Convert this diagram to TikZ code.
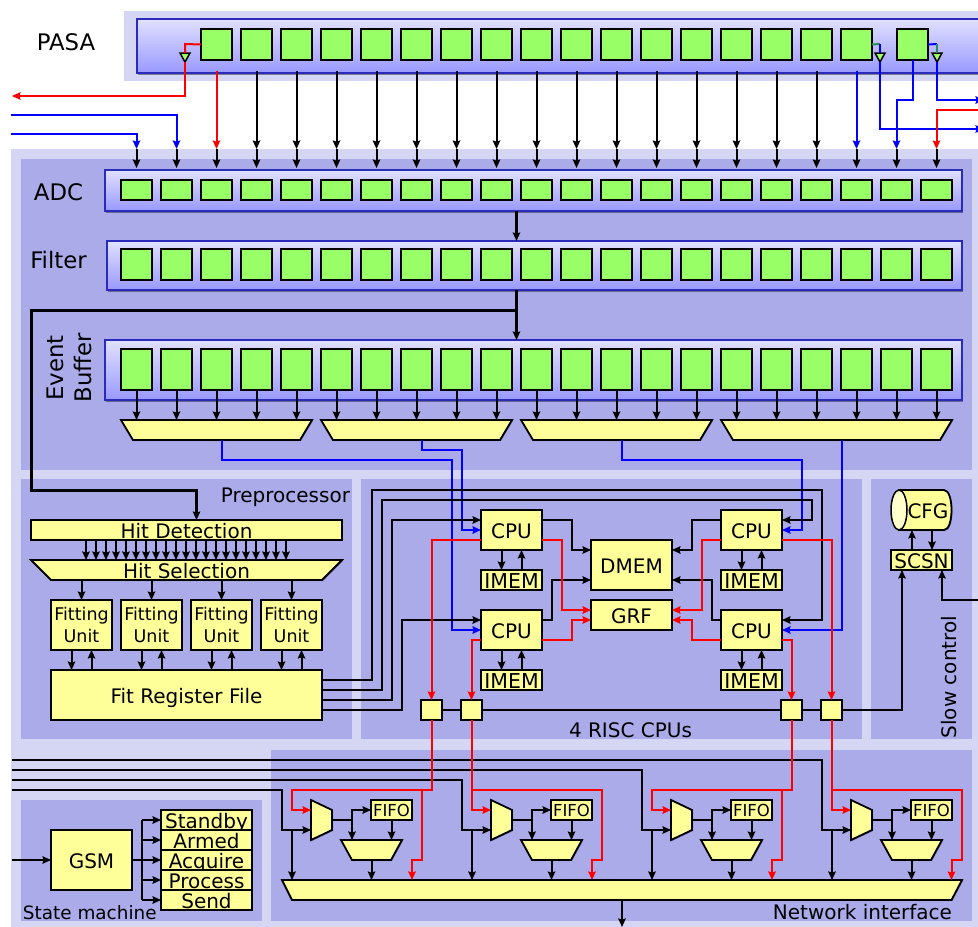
\documentclass[tikz,border=0pt]{standalone}
\usepackage{fontspec}
\setmainfont{DejaVu Sans}
\usetikzlibrary{arrows.meta,shadows,calc}
\definecolor{panelL}{HTML}{D5D6F4}
\definecolor{panelD}{HTML}{ABABEA}
\definecolor{yel}{HTML}{FFFF99}
\definecolor{grn}{HTML}{99FF66}
\definecolor{barline}{HTML}{2A2ABB}
\definecolor{teal2}{HTML}{2E8B57}
\tikzset{
  >={Stealth[length=8.5pt,width=7.5pt,inset=1.2pt]},
  x=1pt,y=-1pt,
  every node/.style={inner sep=0pt,outer sep=0pt},
  fsz/.style={font=\fontsize{20}{22}\selectfont},
  big/.style={font=\fontsize{22.8}{25}\selectfont},
  shad/.style={drop shadow={shadow xshift=1pt,shadow yshift=-1pt,opacity=.3,fill=black}},
  panelA/.style={fill=panelL,draw=none},
  panelB/.style={fill=panelD,draw=none},
  bar/.style={draw=barline,line width=2pt,top color=blue!12!white,bottom color=blue!40!white,drop shadow={shadow xshift=1pt,shadow yshift=-1.5pt,opacity=.4,fill=black}},
  cell/.style={draw=black,line width=1.8pt,fill=grn,shad},
  ybox/.style={draw=black,line width=1.8pt,fill=yel,shad,fsz,text height=16pt,text depth=0pt},
  yshape/.style={draw=black,line width=1.8pt,fill=yel,shad},
  ghost/.style={fsz,text height=16pt,text depth=0pt},
  wire/.style={line width=2pt,black},
  thick2/.style={line width=3pt,black},
  busw/.style={line width=2.6pt,black},
  redw/.style={line width=2pt,red},
  bluw/.style={line width=2pt,blue},
}
\begin{document}
\begin{tikzpicture}
\useasboundingbox (0,0) rectangle (978,927);
\fill[white] (0,0) rectangle (978,927);
% panels
\path[panelA] (124,11) rectangle (978,81);
\path[panelA] (11,149) rectangle (978,927);
\path[panelB] (21,159) rectangle (972,470);
\path[panelB] (21,479) rectangle (352,739);
\path[panelB] (361,479) rectangle (862,739);
\path[panelB] (871,479) rectangle (972,739);
\path[panelB] (21,800) rectangle (262,921);
\path[panelB] (271,750) rectangle (972,921);
% labels
\node[big,anchor=base] (lPasa) at (66,50) {PASA};
\node[big,anchor=base] (lAdc) at (58.5,200) {ADC};
\node[big,anchor=base] (lFilter) at (58.5,268) {Filter};
\node[big,anchor=base,rotate=90] (lEvent) at (63.5,368) {Event};
\node[big,anchor=base,rotate=90] (lBuffer) at (91.5,368) {Buffer};
\node[fsz,anchor=base east] (lPre) at (350,502) {Preprocessor};
\node[fsz,anchor=base] (lRisc) at (630.5,737) {4 RISC CPUs};
\node[fsz,anchor=base,rotate=90] (lSlow) at (956.5,677) {Slow control};
\node[fsz,anchor=base east] (lNet) at (952,919) {Network interface};
\node[anchor=base west,font=\fontsize{18.4}{20}\selectfont] (lState) at (23,919) {State machine};
% bars
\path[bar] (137,19) rectangle (990,73);
\path[bar] (104.5,170) rectangle (962,211);
\path[bar] (107,241) rectangle (962,290);
\path[bar] (104.5,340) rectangle (962,400);
\node (pasa) at (563.5,46) [minimum width=853pt,minimum height=54pt] {};
\node (adc) at (533.25,190.5) [minimum width=857.5pt,minimum height=41pt] {};
\node (filt) at (534.5,265.5) [minimum width=855pt,minimum height=49pt] {};
\node (evb) at (533.25,370) [minimum width=857.5pt,minimum height=60pt] {};
% cells
\foreach \i in {1,...,17}{
  \pgfmathsetmacro\cx{216.5+40*(\i-1)}
  \node[cell,minimum width=31pt,minimum height=31pt] (pc\i) at (\cx,44.5) {};
}
\node[cell,minimum width=31pt,minimum height=31pt] (pc18) at (912.5,44.5) {};
\foreach \i in {1,...,21}{
  \pgfmathsetmacro\cx{136.5+40*(\i-1)}
  \node[cell,minimum width=31pt,minimum height=20.5pt] (ac\i) at (\cx,190) {};
  \node[cell,minimum width=31pt,minimum height=31pt] (fc\i) at (\cx,264.5) {};
  \node[cell,minimum width=31pt,minimum height=41pt] (ec\i) at (\cx,369.5) {};
}
% PASA buffers
\foreach \n/\cx in {tri1/185,tri2/880,tri3/937}{
  \path[draw=black,line width=1.5pt,fill=grn] (\cx-5,53) -- (\cx+5,53) -- (\cx,62) -- cycle;
  \node[minimum width=10pt,minimum height=9pt] (\n) at (\cx,57.5) {};
}
% Event muxes
\foreach \n/\a/\b in {em1/121/312,em2/321/512,em3/521/712,em4/721/952}{
  \path[yshape] (\a,420) -- (\b,420) -- (\b-12,440) -- (\a+12,440) -- cycle;
  \pgfmathsetmacro\cx{(\a+\b)/2}\pgfmathsetmacro\w{\b-\a}
  \node[minimum width=\w pt,minimum height=20pt] (\n) at (\cx,430) {};
}
% Preprocessor
\node[ybox,minimum width=311pt,minimum height=20pt] (hd) at (186.5,530) {Hit Detection};
\path[yshape] (31,560) -- (342,560) -- (322,580) -- (51,580) -- cycle;
\node[ghost,minimum width=311pt,minimum height=20pt] (hs) at (186.5,570) {Hit Selection};
\foreach \i/\cx in {1/81.5,2/151.5,3/221.5,4/291.5}{
  \node[ybox,minimum width=61pt,minimum height=50pt,align=center,font=\fontsize{17.5}{21.5}\selectfont,text height=,text depth=] (fu\i) at (\cx,625) {Fitting\\Unit};
}
\node[ybox,minimum width=271pt,minimum height=50pt] (frf) at (186.5,695) {Fit Register File};
% CPUs
\foreach \n/\cx/\cy in {cpuA/511.5/530,cpuB/511.5/630,cpuC/751.5/530,cpuD/751.5/630}{
  \node[ybox,minimum width=61pt,minimum height=40pt] (\n) at (\cx,\cy) {CPU};
}
\foreach \n/\cx/\cy in {imA/511.5/580,imB/511.5/680,imC/751.5/580,imD/751.5/680}{
  \node[ybox,minimum width=61pt,minimum height=20pt,font=\fontsize{20.5}{22}\selectfont] (\n) at (\cx,\cy) {IMEM};
}
\node[ybox,minimum width=81pt,minimum height=50pt] (dmem) at (631.5,565) {DMEM};
\node[ybox,minimum width=81pt,minimum height=30pt] (grf) at (631.5,615) {GRF};
\foreach \n/\cx in {sqA/431.5,sqB/471.5,sqC/791.5,sqD/831.5}{
  \node[ybox,minimum width=21pt,minimum height=20pt] (\n) at (\cx,710) {};
}
% Slow control
\path[yshape] (899,490) -- (944,490) .. controls (954,490) and (954,530) .. (944,530) -- (899,530) -- cycle;
\path[draw=black,line width=1.5pt,fill=yel!50!white] (899,510) ellipse [x radius=8,y radius=20];
\node[ghost,minimum width=61pt,minimum height=40pt] (cfgbox) at (921.5,510) {};
\node[ghost] (cfg) at (928,510) {CFG};
\node[ybox,minimum width=61pt,minimum height=20pt] (scsn) at (921.5,560) {SCSN};
% State machine
\node[ybox,minimum width=81pt,minimum height=60pt] (gsm) at (91.5,860) {GSM};
\foreach \n/\cy/\t in {stA/820/Standby,stB/840/Armed,stC/860/Acquire,stD/880/Process,stE/900/Send}{
  \node[ybox,minimum width=91pt,minimum height=20pt] (\n) at (206.5,\cy) {\t};
}
% Network interface
\foreach \n/\d in {1/0,2/180,3/360,4/540}{
  \path[yshape] (311+\d,800) -- (332+\d,810) -- (332+\d,830) -- (311+\d,840) -- cycle;
  \node[minimum width=21pt,minimum height=40pt] (nm\n) at (321.5+\d,820) {};
  \node[ybox,minimum width=41pt,minimum height=20pt,font=\fontsize{16.5}{18}\selectfont,text height=13.4pt] (ff\n) at (391.5+\d,810) {FIFO};
  \path[yshape] (341+\d,840) -- (402+\d,840) -- (391+\d,860) -- (352+\d,860) -- cycle;
  \node[minimum width=61pt,minimum height=20pt] (sm\n) at (371.5+\d,850) {};
}
\path[yshape] (282,880) -- (962,880) -- (951.5,900) -- (292,900) -- cycle;
\node[minimum width=680pt,minimum height=20pt] (nb) at (622,890) {};
% free ends
\coordinate (outL) at (12,96);
\coordinate (inA) at (11,115);
\coordinate (inB) at (11,134);
\coordinate (outR1) at (984,100);
\coordinate (inR) at (978,110);
\coordinate (outR2) at (984,129);
\coordinate (sciR) at (978,600);
\coordinate (l1) at (12,760);
\coordinate (l2) at (12,770);
\coordinate (l3) at (12,780);
\coordinate (l4) at (12,790);
\coordinate (gsmin) at (12,860);
\coordinate (bottom) at (622,927);
% PASA to ADC
\foreach \k in {1,...,21}{
  \draw[wire,->] (ac\k.north |- 0,149) -- (ac\k.north |- 0,168);
}
\draw[redw,->] (pc1.south |- 0,71) -- (ac3.north |- 0,149);
\foreach \k [evaluate=\k as \j using int(\k+2)] in {2,...,16}{
  \draw[wire,->] (pc\k.south |- 0,71) -- (ac\j.north |- 0,149);
}
\draw[bluw,->] (pc17.south |- 0,71) -- (ac19.north |- 0,149);
\draw[bluw,->] (pc18.south) -- (912.5,100) -- (896.5,100) -- (ac20.north |- 0,149);
\draw[redw] (pc1.west) -- (185,44) -- (tri1.north);
\draw[redw,->] (tri1.south) -- (185,96) -- (outL);
\draw[bluw,->] (inA) -- (176.5,115) -- (ac2.north |- 0,149);
\draw[bluw,->] (inB) -- (136.5,134) -- (ac1.north |- 0,149);
\draw[line width=2pt,teal2] (pc17.east) -- (880,44);
\draw[bluw] (880,44) -- (tri2.north);
\draw[bluw,->] (tri2.south) -- (880,129) -- (outR2);
\draw[bluw] (pc18.east) -- (937,44);
\draw[line width=2pt,teal2] (937,44) -- (tri3.north);
\draw[bluw,->] (tri3.south) -- (937,100) -- (outR1);
\draw[redw,->] (inR) -- (936.5,110) -- (ac21.north |- 0,149);
% ADC Filter Buffer
\draw[busw,->] (516.5,0 |- adc.south) -- (516.5,0 |- filt.north);
\draw[thick2,->] (516.5,0 |- filt.south) -- (516.5,0 |- evb.north);
\draw[thick2,->] (516.5,310) -- (31,310) -- (31,490) -- (196.5,490) -- (196.5,0 |- hd.north);
% buffer to muxes
\foreach \k in {1,...,21}{
  \draw[wire,->] (ec\k.south) -- (ec\k.south |- 0,420);
}
% muxes to CPUs
\draw[bluw,->] (221.5,0 |- em1.south) -- (221.5,460) -- (452,460) -- (452,630) -- (cpuB.west);
\draw[bluw,->] (421.5,0 |- em2.south) -- (421.5,450) -- (462,450) -- (462,530) -- (cpuA.west);
\draw[bluw,->] (621.5,0 |- em3.south) -- (621.5,460) -- (802,460) -- (802,530) -- (cpuC.east);
\draw[bluw,->] (841.5,0 |- em4.south) -- (841.5,630) -- (cpuD.east);
% preprocessor
\foreach \k in {0,...,20}{
  \pgfmathsetmacro\cx{86+10*\k}
  \draw[wire,->] (\cx,0 |- hd.south) -- (\cx,0 |- hs.north);
}
\foreach \i/\cx in {1/81.5,2/151.5,3/221.5,4/291.5}{
  \draw[wire,->] (\cx,580) -- (fu\i.north);
  \draw[wire,->] (\cx-10,650) -- (\cx-10,670);
  \draw[wire,->] (\cx+10,670) -- (\cx+10,650);
}
% register file to CPUs
\draw[wire,->] (frf.east |- 0,680) -- (372,680) -- (372,490) -- (822,490) -- (822,620) -- (cpuD.east |- 0,620);
\draw[wire,->] (frf.east |- 0,690) -- (382,690) -- (382,500) -- (812,500) -- (812,520) -- (cpuC.east |- 0,520);
\draw[wire,->] (frf.east |- 0,700) -- (392,700) -- (392,520) -- (cpuA.west |- 0,520);
\draw[wire,->] (frf.east |- 0,710) -- (402,710) -- (402,620) -- (cpuB.west |- 0,620);
% CPU internals
\foreach \c/\m/\cx in {cpuA/imA/511.5,cpuB/imB/511.5,cpuC/imC/751.5,cpuD/imD/751.5}{
  \draw[wire,->] (\cx-10,0 |- \c.south) -- (\cx-10,0 |- \m.north);
  \draw[wire,->] (\cx+10,0 |- \m.north) -- (\cx+10,0 |- \c.south);
}
\draw[wire,->] (cpuA.east |- 0,520) -- (572,520) -- (572,550) -- (dmem.west |- 0,550);
\draw[wire,->] (cpuB.east |- 0,620) -- (552,620) -- (552,580) -- (dmem.west |- 0,580);
\draw[wire,->] (cpuC.west |- 0,520) -- (692,520) -- (692,550) -- (dmem.east |- 0,550);
\draw[wire,->] (cpuD.west |- 0,620) -- (712,620) -- (712,580) -- (dmem.east |- 0,580);
\draw[redw,->] (cpuA.east |- 0,540) -- (562,540) -- (562,610) -- (grf.west |- 0,610);
\draw[redw,->] (cpuB.east |- 0,640) -- (572,640) -- (572,620) -- (grf.west |- 0,620);
\draw[redw,->] (cpuC.west |- 0,540) -- (702,540) -- (702,610) -- (grf.east |- 0,610);
\draw[redw,->] (cpuD.west |- 0,640) -- (692,640) -- (692,620) -- (grf.east |- 0,620);
\draw[redw,->] (cpuA.west |- 0,540) -- (431.5,540) -- (sqA.north);
\draw[redw,->] (cpuB.west |- 0,640) -- (471.5,640) -- (sqB.north);
\draw[redw,->] (cpuD.east |- 0,640) -- (791.5,640) -- (sqC.north);
\draw[redw,->] (cpuC.east |- 0,540) -- (831.5,540) -- (sqD.north);
% bus
\draw[busw] (sqA.east) -- (sqB.west);
\draw[busw] (sqB.east) -- (sqC.west);
\draw[busw] (sqC.east) -- (sqD.west);
\draw[busw,->] (sqD.east) -- (902,710) -- (902,0 |- scsn.south);
\draw[wire,->] (912,0 |- scsn.north) -- (912,0 |- cfgbox.south);
\draw[wire,->] (932,0 |- cfgbox.south) -- (932,0 |- scsn.north);
\draw[wire,->] (sciR) -- (942,600) -- (942,0 |- scsn.south);
% state machine
\draw[wire,->] (gsmin) -- (gsm.west);
\draw[wire] (142,820) -- (142,900);
\draw[wire] (gsm.east) -- (142,860);
\foreach \n in {stA,stB,stC,stD,stE}{
  \draw[wire,->] (142,0 |- \n.west) -- (\n.west);
}
% network
\draw[wire,->] (l4) -- (282,790) -- (282,830) -- (nm1.west |- 0,830);
\draw[wire,->] (l3) -- (462,780) -- (462,830) -- (nm2.west |- 0,830);
\draw[wire,->] (l2) -- (642,770) -- (642,830) -- (nm3.west |- 0,830);
\draw[wire,->] (l1) -- (822,760) -- (822,830) -- (nm4.west |- 0,830);
\foreach \n/\d in {1/0,2/180,3/360,4/540}{
  \draw[wire] (nm\n.east) -- (352+\d,820);
  \draw[wire,->] (352+\d,820) -- (352+\d,810) -- (ff\n.west);
  \draw[wire,->] (352+\d,820) -- (352+\d,0 |- sm\n.north);
  \draw[wire,->] (ff\n.south) -- (ff\n.south |- sm\n.north);
  \draw[wire,->] (sm\n.south) -- (sm\n.south |- nb.north);
  \draw[wire,->] (292+\d,830) -- (292+\d,0 |- nb.north);
}
\draw[redw,->] (sqA.south) -- (431.5,790) -- (292,790) -- (292,810) -- (nm1.west |- 0,810);
\draw[redw,->] (422,790) -- (422,860) -- (412,860) -- (412,0 |- nb.north);
\draw[redw,->] (sqB.south) -- (471.5,810) -- (nm2.west |- 0,810);
\draw[redw,->] (471.5,790) -- (602,790) -- (602,860) -- (592,860) -- (592,0 |- nb.north);
\draw[redw,->] (sqC.south) -- (791.5,790) -- (652,790) -- (652,810) -- (nm3.west |- 0,810);
\draw[redw,->] (782,790) -- (782,860) -- (772,860) -- (772,0 |- nb.north);
\draw[redw,->] (sqD.south) -- (831.5,810) -- (nm4.west |- 0,810);
\draw[redw,->] (831.5,790) -- (962,790) -- (962,860) -- (951.5,860) -- (951.5,0 |- nb.north);
\draw[busw,->] (622,0 |- nb.south) -- (bottom);
\end{tikzpicture}
\end{document}
